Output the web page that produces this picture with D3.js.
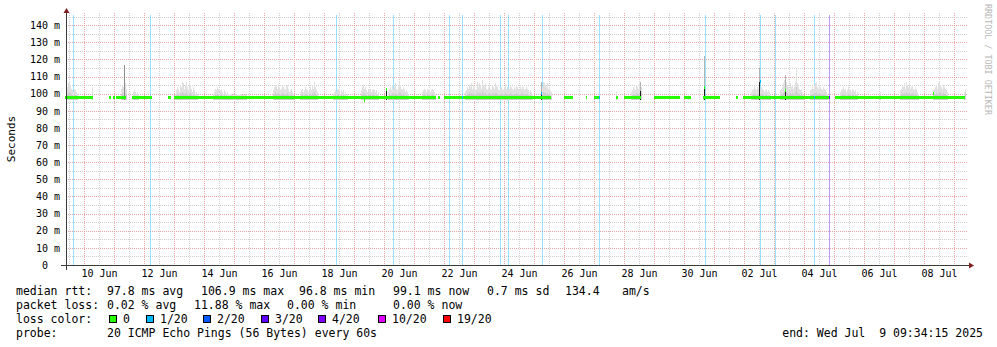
<!DOCTYPE html>
<html>
<head>
<meta charset="utf-8">
<script src="https://cdn.jsdelivr.net/npm/d3@7"></script>
<style>
  html, body { margin: 0; padding: 0; background: #fff; }
  svg { display: block; }
  text { font-family: "DejaVu Sans Mono", monospace; fill: #000; }
</style>
</head>
<body>
<div id="chart"></div>
<script>
// ---- data ----
const startTime = '2025-06-09 09:34:15';
const endTime = '2025-07-09 09:34:15';

const dayLabels = ['06-10', '06-12', '06-14', '06-16', '06-18', '06-20', '06-22', '06-24',
  '06-26', '06-28', '06-30', '07-02', '07-04', '07-06', '07-08'];
const yTicks = [0, 10, 20, 30, 40, 50, 60, 70, 80, 90, 100, 110, 120, 130, 140];

// median rtt (ms) while data is present
const medianBase = 97.8;
const dataSegments = [
  ['06-09 09:34', '06-10 07:28'], ['06-10 20:18', '06-10 22:08'], ['06-10 23:12', '06-11 00:48'],
  ['06-11 02:08', '06-11 10:08'], ['06-11 14:58', '06-12 06:58'], ['06-12 19:28', '06-12 21:38'],
  ['06-13 00:14', '06-21 17:38'], ['06-21 19:28', '06-21 20:48'], ['06-22 00:14', '06-25 14:08'],
  ['06-26 00:14', '06-26 07:28'], ['06-26 18:08', '06-26 18:58'], ['06-27 00:14', '06-27 05:23'],
  ['06-27 18:08', '06-27 19:58'], ['06-28 00:14', '06-28 14:08'], ['06-29 00:14', '06-29 20:48'],
  ['06-30 00:14', '06-30 05:38'], ['06-30 15:28', '07-01 04:48'], ['07-01 17:38', '07-01 19:28'],
  ['07-01 23:58', '07-04 20:14'], ['07-05 00:48', '07-09 09:34']
];
// [time, median ms, loss level index] where the median moves off the base
const medianMarks = [
  ['06-19 08:00', 96.3, 0], ['06-20 01:36', 102.3, 0], ['06-22 14:24', 97.8, 1],
  ['06-25 05:36', 100.2, 1], ['06-27 04:00', 97.8, 1], ['06-30 16:00', 103.7, 0],
  ['07-02 12:48', 107.3, 1], ['07-03 08:48', 101.6, 0], ['07-04 08:00', 97.8, 1],
  ['07-04 20:00', 97.8, 3], ['07-08 07:12', 100.0, 0]
];

// smoke: top of ping spread (ms), one value per 48 min step from the start time
const smokeStep = 48;
const smokeRuns = [
  ['06-09 10:24', [104, 106, 107, 105, 103, 102, 101, 103, 102, 101, 100]],
  ['06-10 06:24', [104]],
  ['06-11 05:36', [103, 105, 104, 100, 106, 103]],
  ['06-11 15:12', [101, 102, 101, 100, 101, 100]],
  ['06-13 00:48', [100, 102, 104, 103, 101, 105, 104, 107, 106, 103, 105, 107, 104, 102, 106, 105, 103, 101, 104, 102, 100, 101, 100]],
  ['06-14 07:12', [100, 101, 103, 102, 104, 103, 101, 102, 103, 101, 100, 102, 101, 100, 101]],
  ['06-14 19:12', [100, 99, 100, 100, 99, 100, 99, 100, 100, 99, 100, 99, 100, 100, 99, 100, 99, 100, 99]],
  ['06-16 07:12', [102, 104, 105, 104, 103, 105, 104, 102, 103, 105, 104, 103, 102, 104, 105, 103, 101, 102, 103, 101, 100]],
  ['06-17 04:48', [101, 102, 103, 101, 102, 104, 103, 102, 101, 103, 104, 102, 105, 103, 107, 104, 102, 101]],
  ['06-18 07:12', [100, 101, 102, 101, 102, 103, 101, 100, 102, 101, 102, 100, 101, 100, 100]],
  ['06-19 05:36', [102, 104, 105, 103, 104, 102, 101, 103, 102, 103, 101, 102, 103, 102, 101, 102, 100, 101]],
  ['06-20 03:12', [101, 103, 104, 102, 105, 103, 104, 106, 103, 102, 104, 107, 105, 103, 102, 104, 103, 101, 102, 101, 100]],
  ['06-21 06:24', [101, 102, 103, 102, 101, 103, 102, 103, 101, 102, 103, 102, 101, 100]],
  ['06-22 16:48', [101, 102, 104, 103, 105, 104, 106, 103, 105, 104, 102, 103, 107, 104, 106, 105, 103, 108, 105, 104, 106, 103, 102, 104, 105, 103, 102, 105, 104, 103, 106, 105, 104, 102]],
  ['06-23 20:00', [102, 103, 104, 103, 102, 104, 105, 103, 104, 102, 103, 105, 104, 103, 102, 104, 103, 105, 104, 103, 102, 104, 103, 105, 104, 102, 103, 104, 103, 102, 101, 102, 101, 100]],
  ['06-25 05:36', [102, 104, 107, 106, 105, 104, 106, 103, 104, 102, 101]],
  ['06-27 17:36', [101.6]],
  ['06-28 05:36', [101, 102, 104, 103, 102, 105, 104, 103, 106, 107, 104]],
  ['06-30 03:12', [100]],
  ['07-02 05:36', [101, 102, 103, 104, 103, 102, 104, 103, 102, 103, 104, 103, 102, 101, 102, 103, 101, 102, 101, 100]],
  ['07-03 04:48', [102, 103, 104, 106, 108, 111, 107, 105, 104, 103, 106, 104, 105, 103, 104, 107, 115, 106, 104, 103, 102, 103, 101, 100]],
  ['07-04 04:48', [102, 103, 104, 103, 105, 106, 107, 104, 103, 105, 104, 103, 102, 104, 103, 102, 101, 100]],
  ['07-05 04:48', [101, 102, 103, 104, 102, 103, 101, 102, 104, 103, 102, 101, 103, 102, 101, 102, 100, 101]],
  ['07-06 12:48', [101]],
  ['07-07 04:48', [102, 103, 105, 104, 106, 103, 107, 105, 104, 106, 103, 104, 105, 103, 102, 104, 103, 101, 100]],
  ['07-08 07:12', [102, 103, 104, 105, 103, 106, 107, 105, 104, 103, 105, 104, 103, 102, 101]],
  ['07-09 08:00', [101, 103]]
];
// [time, top ms, top of dense (dark) part or null]
const spikes = [
  ['06-11 08:00', 116.6, null], ['06-20 01:36', 103, 101.5], ['06-25 05:36', 107, 100.5],
  ['06-28 12:48', 107, 101.5], ['06-30 16:00', 122, 104], ['07-02 12:00', 115, 107],
  ['07-03 08:48', 111, 102]
];
// [time, loss level index]
const lossEvents = [
  ['06-09 15:12', 1], ['06-12 04:48', 1], ['06-18 09:36', 1], ['06-20 07:12', 1],
  ['06-22 04:00', 1], ['06-22 14:24', 1], ['06-23 20:48', 1], ['06-24 03:12', 1],
  ['06-25 06:24', 1], ['06-27 04:00', 1], ['06-30 16:48', 1], ['07-02 12:48', 1],
  ['07-03 00:48', 1], ['07-04 08:00', 1], ['07-04 20:00', 3]
];

const lossLevels = ['0', '1/20', '2/20', '3/20', '4/20', '10/20', '19/20'];
const lossColors = ['#26ff00', '#00b8ff', '#0059ff', '#5e00ff', '#7e00ff', '#dd00ff', '#ff0000'];

const rttStats = ['97.8 ms avg', '106.9 ms max', '96.8 ms min', '99.1 ms now', '0.7 ms sd', '134.4', 'am/s'];
const lossStats = ['0.02 % avg', '11.88 % max', '0.00 % min', '0.00 % now'];
const probeText = '20 ICMP Echo Pings (56 Bytes) every 60s';
const endText = 'end: Wed Jul  9 09:34:15 2025';

// ---- layout ----
const W = 997, H = 347;
const plot = {left: 66, right: 966, gridRight: 968, top: 15, bottom: 265};
const rttX = [107, 201, 299, 393, 487, 565, 622];
const lossX = [107, 194, 287, 393];
const boxX = [109, 146, 203, 261, 318, 378, 443];
const lineY = [295, 309, 323, 337];
const legendSize = 11.5;

const parseFull = d3.timeParse('%Y-%m-%d %H:%M:%S');
const parse = d3.timeParse('%Y-%m-%d %H:%M');
const T = s => parse('2025-' + s);

const x = d3.scaleTime()
  .domain([parseFull(startTime), parseFull(endTime)])
  .range([plot.left, plot.right]);
const y = d3.scaleLinear().domain([0, 140]).range([265, 25.2]);
const col = t => Math.floor(x(t));

const svg = d3.select('#chart').append('svg')
  .attr('width', W).attr('height', H);
svg.append('rect').attr('width', W).attr('height', H).attr('fill', '#fff');

// Grid ---------------------------
const grid = svg.append('g').attr('shape-rendering', 'crispEdges');
grid.selectAll('line.h')
  .data(d3.range(5, 146, 5))
  .join('line')
  .attr('class', 'h')
  .attr('x1', plot.left).attr('x2', plot.gridRight)
  .attr('y1', d => Math.round(y(d)) + 0.5).attr('y2', d => Math.round(y(d)) + 0.5)
  .attr('stroke', d => d % 10 === 0 ? '#eba5a5' : '#cfcfcf')
  .attr('stroke-dasharray', '1,1');

grid.selectAll('line.v')
  .data(d3.timeHour.every(12).range(x.domain()[0], x.domain()[1]))
  .join('line')
  .attr('class', 'v')
  .attr('x1', d => col(d) + 0.5).attr('x2', d => col(d) + 0.5)
  .attr('y1', 13).attr('y2', plot.bottom)
  .attr('stroke', d => d.getHours() === 0 ? '#eba5a5' : '#cfcfcf')
  .attr('stroke-dasharray', '1,1');

// Loss background lines ----------
svg.append('g').attr('shape-rendering', 'crispEdges')
  .selectAll('rect')
  .data(lossEvents)
  .join('rect')
  .attr('x', d => col(T(d[0])))
  .attr('width', 1)
  .attr('y', plot.top)
  .attr('height', plot.bottom - plot.top)
  .attr('fill', d => lossColors[d[1]])
  .attr('opacity', 0.4);

// Smoke --------------------------
const smoke = smokeRuns.flatMap(([s, vals]) =>
  vals.map((v, i) => ({t: d3.timeMinute.offset(T(s), i * smokeStep), top: v})));
const innerTop = d => medianBase + (d.top - medianBase) * 0.35;

const smokeG = svg.append('g').attr('shape-rendering', 'crispEdges');
smokeG.selectAll('rect.outer')
  .data(smoke)
  .join('rect')
  .attr('class', 'outer')
  .attr('x', d => col(d.t)).attr('width', 1)
  .attr('y', d => y(d.top))
  .attr('height', d => y(96.6) - y(d.top))
  .attr('fill', '#e0e0e0');
smokeG.selectAll('rect.inner')
  .data(smoke)
  .join('rect')
  .attr('class', 'inner')
  .attr('x', d => col(d.t)).attr('width', 1)
  .attr('y', d => y(innerTop(d)))
  .attr('height', d => y(96.6) - y(innerTop(d)))
  .attr('fill', '#cecece');

// Spikes
const spikeG = svg.append('g').attr('shape-rendering', 'crispEdges');
spikeG.selectAll('rect.top')
  .data(spikes)
  .join('rect')
  .attr('class', 'top')
  .attr('x', d => col(T(d[0]))).attr('width', 1)
  .attr('y', d => y(d[1]))
  .attr('height', d => y(96.6) - y(d[1]))
  .attr('fill', d => d[2] === null ? '#8c8c8c' : '#b4b4b4');
spikeG.selectAll('rect.dark')
  .data(spikes.filter(d => d[2] !== null))
  .join('rect')
  .attr('class', 'dark')
  .attr('x', d => col(T(d[0]))).attr('width', 1)
  .attr('y', d => y(d[2]))
  .attr('height', d => y(96.2) - y(d[2]))
  .attr('fill', '#1e1e1e');

// Median line --------------------
const medG = svg.append('g').attr('shape-rendering', 'crispEdges');
medG.selectAll('rect.seg')
  .data(dataSegments)
  .join('rect')
  .attr('class', 'seg')
  .attr('x', d => col(T(d[0])))
  .attr('width', d => Math.max(1, col(T(d[1])) - col(T(d[0]))))
  .attr('y', y(medianBase) - 1.5)
  .attr('height', 3)
  .attr('fill', lossColors[0]);
medG.selectAll('rect.mark')
  .data(medianMarks)
  .join('rect')
  .attr('class', 'mark')
  .attr('x', d => col(T(d[0]))).attr('width', 1)
  .attr('y', d => y(d[1]) - 1.5)
  .attr('height', 3)
  .attr('fill', d => lossColors[d[2]]);

// Axes ---------------------------
const axisColor = '#3a3a3a', arrowColor = '#7f1f1f';
const axes = svg.append('g').attr('shape-rendering', 'crispEdges');
axes.append('line')
  .attr('x1', 61).attr('x2', 970).attr('y1', 265.5).attr('y2', 265.5)
  .attr('stroke', axisColor);
axes.append('line')
  .attr('x1', 66.5).attr('x2', 66.5).attr('y1', 270).attr('y2', 12)
  .attr('stroke', axisColor);
svg.append('path')
  .attr('d', 'M969,262.5 L974,265.5 L969,268.5 Z')
  .attr('fill', arrowColor);
svg.append('path')
  .attr('d', 'M63.5,13 L66.5,8 L69.5,13 Z')
  .attr('fill', arrowColor);

const yAxis = svg.append('g')
  .attr('transform', `translate(${plot.left},0)`)
  .call(d3.axisLeft(y).tickValues(yTicks).tickSize(0).tickPadding(6)
    .tickFormat(d => d === 0 ? '0' : d + ' m'));
yAxis.select('.domain').remove();
yAxis.selectAll('text')
  .attr('font-family', 'DejaVu Sans Mono').attr('font-size', 10)
  .attr('dx', d => d === 0 ? -12 : 0);

const xAxis = svg.append('g')
  .attr('transform', `translate(0,${plot.bottom})`)
  .call(d3.axisBottom(x)
    .tickValues(dayLabels.map(d => T(d + ' 12:00')))
    .tickSize(0).tickPadding(5)
    .tickFormat(d3.timeFormat('%d %b')));
xAxis.select('.domain').remove();
xAxis.selectAll('text')
  .attr('font-family', 'DejaVu Sans Mono').attr('font-size', 10);

svg.append('text')
  .attr('transform', 'translate(15,139) rotate(-90)')
  .attr('text-anchor', 'middle')
  .attr('font-size', 11)
  .text('Seconds');

svg.append('text')
  .attr('transform', 'translate(985,4) rotate(90)')
  .attr('font-size', 8.4)
  .style('fill', '#b8b8b8')
  .text('RRDTOOL / TOBI OETIKER');

// Legend -------------------------
const legend = svg.append('g').attr('font-size', legendSize);
const addText = (tx, ty, s) => legend.append('text')
  .attr('xml:space', 'preserve')
  .attr('x', tx).attr('y', ty).text(s);

addText(16, lineY[0], 'median rtt:');
rttStats.forEach((s, i) => addText(rttX[i], lineY[0], s));

addText(16, lineY[1], 'packet loss:');
lossStats.forEach((s, i) => addText(lossX[i], lineY[1], s));

addText(16, lineY[2], 'loss color:');
lossLevels.forEach((s, i) => {
  legend.append('rect')
    .attr('x', boxX[i] + 0.5).attr('y', 315.5)
    .attr('width', 7).attr('height', 7)
    .attr('fill', lossColors[i])
    .attr('stroke', '#000')
    .attr('shape-rendering', 'crispEdges');
  addText(boxX[i] + 14, lineY[2], s);
});

addText(16, lineY[3], 'probe:');
addText(107, lineY[3], probeText);
addText(983, lineY[3], endText).attr('text-anchor', 'end');
</script>
</body>
</html>
